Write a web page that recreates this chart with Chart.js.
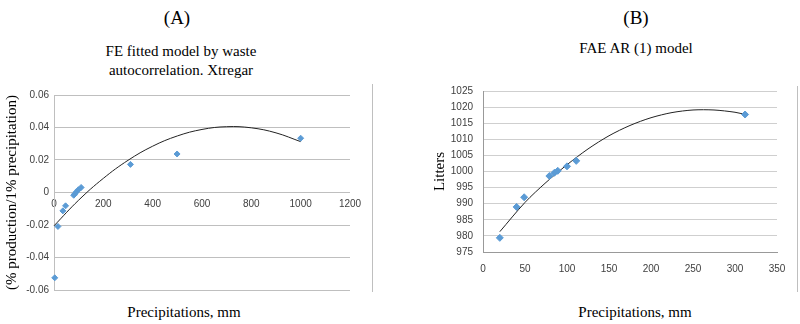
<!DOCTYPE html>
<html>
<head>
<meta charset="utf-8">
<script src="https://cdn.jsdelivr.net/npm/chart.js@4"></script>
<style>
  body { margin: 0; background: #fff; width: 800px; height: 324px; position: relative; overflow: hidden; }
  .txt { position: absolute; font-family: "Liberation Serif", "Times New Roman", serif; color: #000; white-space: nowrap; transform: translate(-50%, -50%); }
  .box { position: absolute; }
  .vline { position: absolute; width: 1px; background: #bfbfbf; }
</style>
</head>
<body>
<div class="txt" style="left:177px;top:18px;font-size:19px">(A)</div>
<div class="txt" style="left:181px;top:51px;font-size:15px">FE fitted model by waste</div>
<div class="txt" style="left:181px;top:70px;font-size:15px">autocorrelation. Xtregar</div>
<div class="txt" style="left:636px;top:18px;font-size:19px">(B)</div>
<div class="txt" style="left:636px;top:48px;font-size:15px">FAE AR (1) model</div>
<div class="txt" style="left:184px;top:312px;font-size:15px">Precipitations, mm</div>
<div class="txt" style="left:635px;top:312px;font-size:15px">Precipitations, mm</div>
<div class="vline" style="left:372px;top:84px;height:208px"></div>
<div class="vline" style="left:797px;top:86px;height:206px"></div>

<div class="box" style="left:0;top:80px;width:380px;height:244px"><canvas id="chartA"></canvas></div>
<div class="box" style="left:400px;top:75px;width:400px;height:249px"><canvas id="chartB"></canvas></div>

<script>
// (A) observed points
const precipA = [3, 16, 36, 47, 80, 85, 91, 99, 110, 310, 499, 1000]
const effectA = [-0.0525, -0.0209, -0.0113, -0.0082, -0.0017, -0.0008, 0.0004, 0.0017, 0.0031, 0.0173, 0.0237, 0.0334]
// (A) trend curve
const trendXA = [0, 100, 200, 300, 400, 500, 600, 700, 800, 900, 1000]
const trendYA = [-0.0205, -0.0047, 0.0087, 0.0198, 0.0285, 0.0348, 0.0388, 0.0405, 0.0398, 0.0367, 0.0313]

// (B) observed points
const precipB = [20, 40, 49, 79, 85, 89, 100, 111, 312]
const littersB = [979.4, 989.0, 992.0, 998.6, 999.6, 1000.2, 1001.6, 1003.3, 1017.7]
// (B) trend curve
const trendXB = [20, 50, 75, 100, 125, 150, 175, 200, 225, 250, 275, 300, 312]
const trendYB = [981.3, 990.4, 996.6, 1002.1, 1007.0, 1011.1, 1014.3, 1016.7, 1018.3, 1019.1, 1019.1, 1018.4, 1017.7]

const pointColor = '#5b9bd5'
const tickFont = {family: 'Liberation Sans', size: 10}
const titleFont = {family: 'Liberation Serif', size: 15}

const zip = (xs, ys) => xs.map((x, i) => ({x: x, y: ys[i]}))
const plain = v => String(v)

new Chart(document.querySelector('#chartA'), {
  type: 'scatter',
  data: {
    datasets: [{
      data: zip(precipA, effectA),
      pointStyle: 'rectRot',
      pointRadius: 3,
      backgroundColor: pointColor,
      borderColor: pointColor,
      order: 1
    }, {
      data: zip(trendXA, trendYA),
      showLine: true,
      pointRadius: 0,
      borderColor: '#222',
      borderWidth: 1,
      tension: 0.4,
      order: 2
    }]
  },
  options: {
    responsive: true,
    maintainAspectRatio: false,
    animation: false,
    clip: false,
    layout: {padding: {top: 15, bottom: 34, right: 30, left: 0}},
    plugins: {legend: {display: false}, tooltip: {enabled: false}},
    scales: {
      x: {
        type: 'linear',
        position: {y: 0},
        min: 0, max: 1200,
        ticks: {stepSize: 200, font: tickFont, color: '#404040', padding: 6, maxRotation: 0, callback: plain},
        grid: {display: false, drawTicks: false},
        border: {display: false}
      },
      y: {
        min: -0.06, max: 0.06,
        ticks: {stepSize: 0.02, font: tickFont, color: '#404040', padding: 5,
          callback: v => Math.abs(v) < 1e-9 ? '0' : v.toFixed(2)},
        grid: {color: '#bfbfbf', drawTicks: false},
        border: {color: '#bfbfbf'},
        title: {display: true, text: '(% production/1% precipitation)', font: titleFont, color: '#000', padding: {top: 3, bottom: 0}},
        afterFit: s => { s.width = 54 }
      }
    }
  }
})

new Chart(document.querySelector('#chartB'), {
  type: 'scatter',
  data: {
    datasets: [{
      data: zip(precipB, littersB),
      pointStyle: 'rectRot',
      pointRadius: 3.5,
      backgroundColor: pointColor,
      borderColor: pointColor,
      order: 1
    }, {
      data: zip(trendXB, trendYB),
      showLine: true,
      pointRadius: 0,
      borderColor: '#222',
      borderWidth: 1,
      tension: 0.3,
      order: 2
    }]
  },
  options: {
    responsive: true,
    maintainAspectRatio: false,
    animation: false,
    clip: false,
    layout: {padding: {top: 3, bottom: 0, right: 23, left: 0}},
    plugins: {legend: {display: false}, tooltip: {enabled: false}},
    scales: {
      x: {
        type: 'linear',
        min: 0, max: 350,
        ticks: {stepSize: 50, font: tickFont, color: '#404040', padding: 11, maxRotation: 0, callback: plain},
        grid: {display: false, drawTicks: false},
        border: {color: '#999'},
        afterFit: s => { s.height = 72 }
      },
      y: {
        min: 975, max: 1025,
        ticks: {stepSize: 5, font: tickFont, color: '#404040', padding: 10, callback: plain},
        grid: {color: '#cfcfcf', drawTicks: false},
        border: {color: '#999'},
        title: {display: true, text: 'Litters', font: titleFont, color: '#000', padding: {top: 31, bottom: 0}},
        afterFit: s => { s.width = 83 }
      }
    }
  }
})
</script>
</body>
</html>
